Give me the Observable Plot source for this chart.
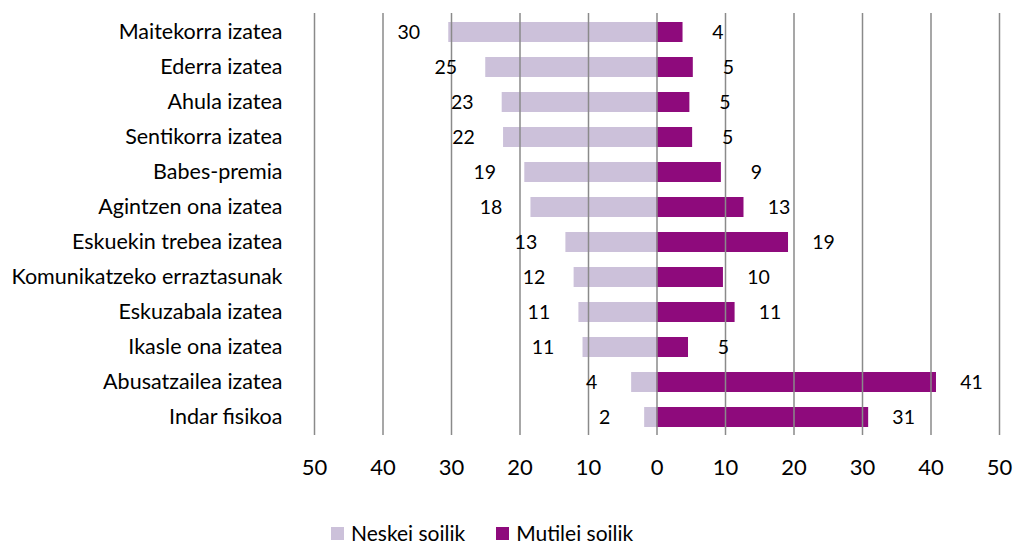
<!DOCTYPE html>
<html>
<head>
<meta charset="utf-8">
<script src="https://cdn.jsdelivr.net/npm/d3@7"></script>
<script src="https://cdn.jsdelivr.net/npm/@observablehq/plot@0.6"></script>
<style>
  html, body { margin: 0; padding: 0; background: #fff; }
  #wrap { position: relative; width: 1014px; height: 547px; overflow: hidden; font-family: Lato, "Open Sans", sans-serif; }
  #legend { position: absolute; left: 331px; top: 521px; display: flex; gap: 31px; font-size: 21px; line-height: 24px; color: #000; align-items: center; }
  .item { display: flex; align-items: center; gap: 7px; }
  .sw { width: 13px; height: 13px; display: inline-block; }
</style>
</head>
<body>
<div id="wrap"></div>
<script>
const categories = [
  "Maitekorra izatea",
  "Ederra izatea",
  "Ahula izatea",
  "Sentikorra izatea",
  "Babes-premia",
  "Agintzen ona izatea",
  "Eskuekin trebea izatea",
  "Komunikatzeko erraztasunak",
  "Eskuzabala izatea",
  "Ikasle ona izatea",
  "Abusatzailea izatea",
  "Indar fisikoa"
];
const seriesNames = ["Neskei soilik", "Mutilei soilik"];
const neskei  = [30.4, 25.0, 22.6, 22.4, 19.3, 18.4, 13.3, 12.1, 11.4, 10.8, 3.7, 1.8];
const mutilei = [3.8, 5.3, 4.8, 5.2, 9.4, 12.7, 19.2, 9.7, 11.4, 4.6, 40.8, 30.9];
const tickValues = [-50, -40, -30, -20, -10, 0, 10, 20, 30, 40, 50];
const colors = ["#ccc1da", "#8e0a7c"];

const left = categories.map((c, i) => ({cat: c, series: seriesNames[0], value: -neskei[i], label: Math.round(neskei[i])}));
const right = categories.map((c, i) => ({cat: c, series: seriesNames[1], value: mutilei[i], label: Math.round(mutilei[i])}));
const rows = left.concat(right);

const chart = Plot.plot({
  width: 1014,
  height: 490,
  marginLeft: 314,
  marginRight: 15,
  marginTop: 13,
  marginBottom: 55,
  style: {fontFamily: "Lato, 'Open Sans', sans-serif", fontSize: "21px", color: "#000", background: "#fff"},
  x: {domain: [-50, 50]},
  y: {domain: categories, type: "band", paddingInner: 0.433, paddingOuter: 0.2},
  color: {domain: seriesNames, range: colors},
  marks: [
    Plot.barX(rows, {x: "value", y: "cat", fill: "series"}),
    Plot.ruleX(tickValues, {stroke: "#8a8a8a", strokeWidth: 1.5}),
    Plot.text(left, {x: "value", y: "cat", text: "label", dx: -40, textAnchor: "middle", fill: "#000", fontSize: 19.5}),
    Plot.text(right, {x: "value", y: "cat", text: "label", dx: 35, textAnchor: "middle", fill: "#000", fontSize: 19.5}),
    Plot.axisX({ticks: tickValues, tickSize: 0, tickPadding: 24, tickFormat: d => Math.abs(d), fontSize: 22, label: null}),
    Plot.axisY({tickSize: 0, tickPadding: 32, fontSize: 21.5, label: null})
  ]
});

const wrap = document.getElementById("wrap");
wrap.appendChild(chart);
const legend = document.createElement("div");
legend.id = "legend";
seriesNames.forEach((s, i) => {
  const it = document.createElement("div");
  it.className = "item";
  const sw = document.createElement("span");
  sw.className = "sw";
  sw.style.background = colors[i];
  const t = document.createElement("span");
  t.textContent = s;
  it.appendChild(sw);
  it.appendChild(t);
  legend.appendChild(it);
});
wrap.appendChild(legend);
</script>
</body>
</html>
